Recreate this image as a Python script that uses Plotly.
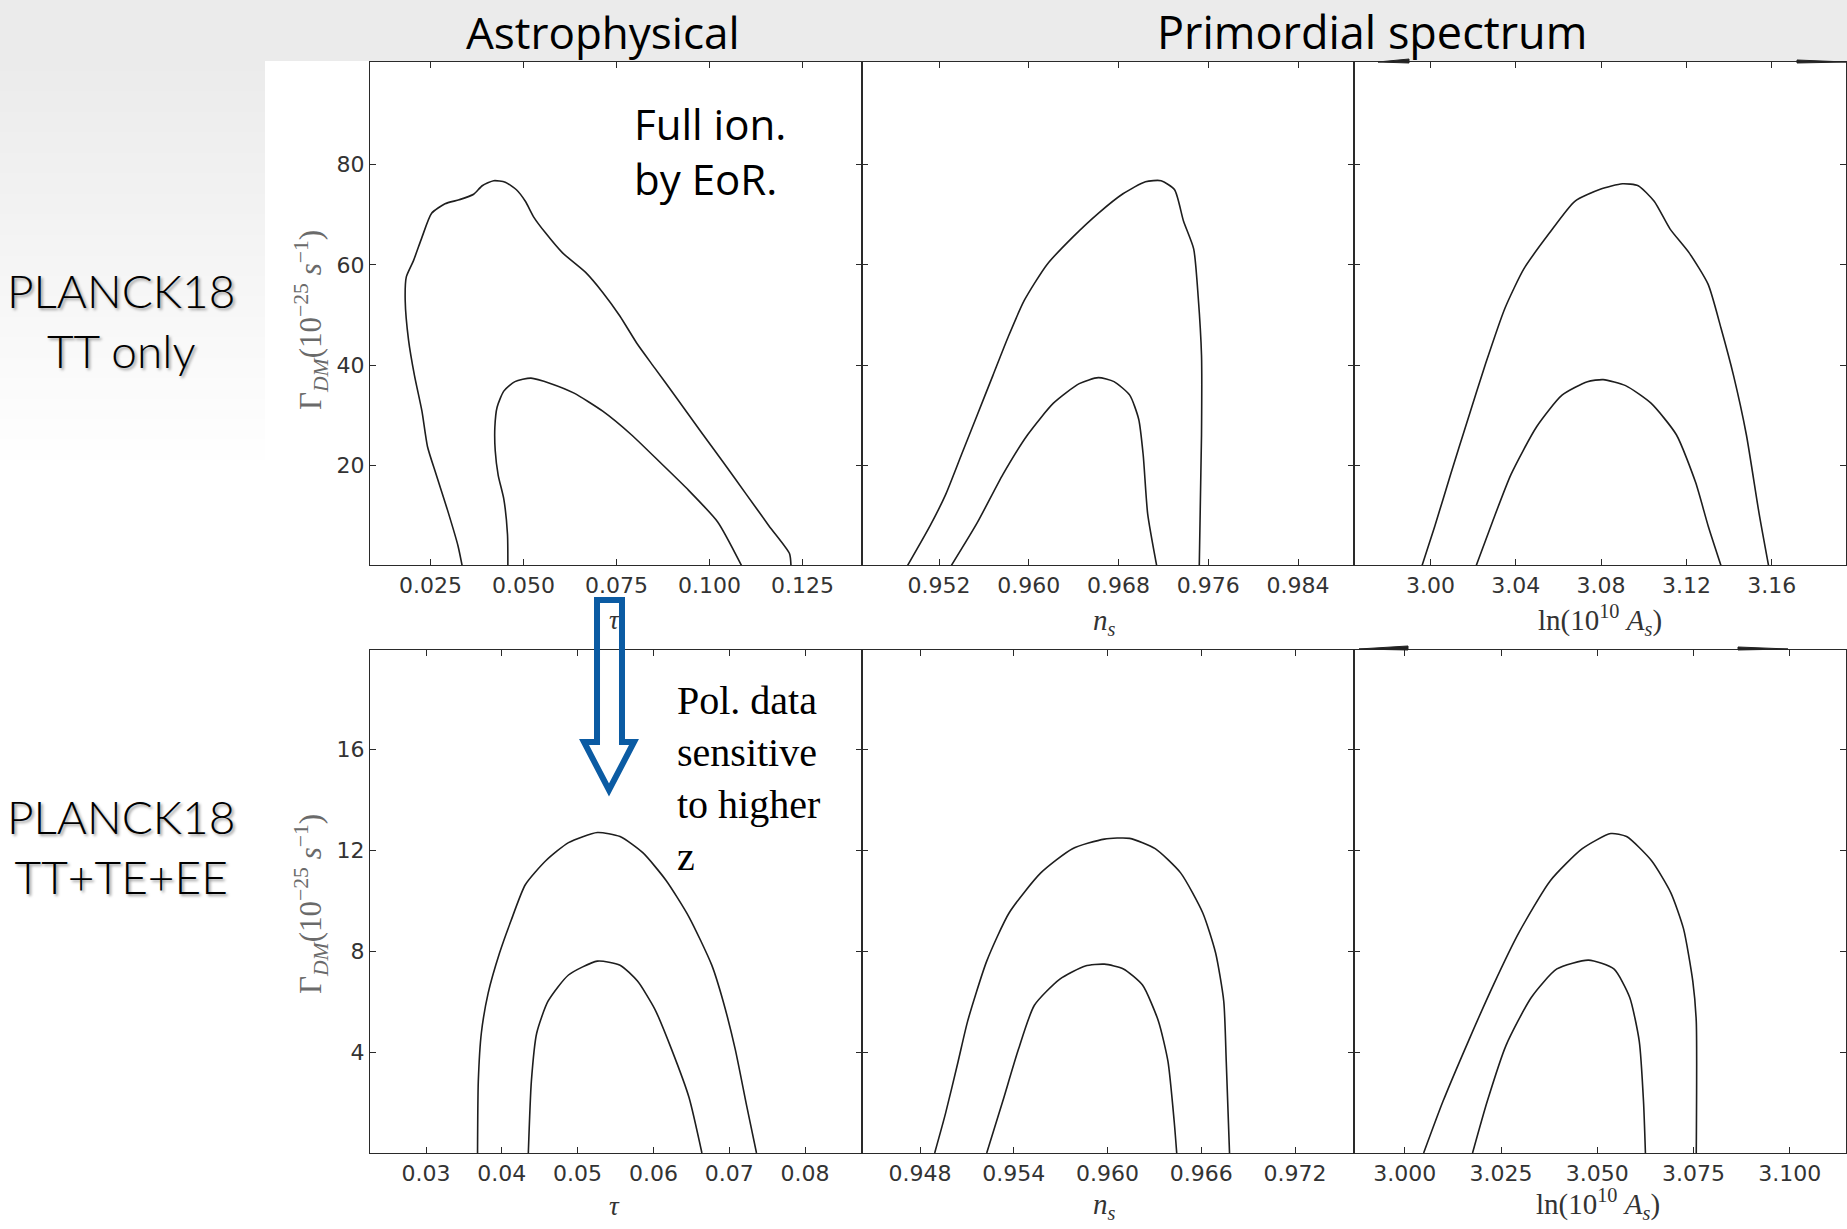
import plotly.graph_objects as go

W, H = 1847, 1229

# ---------------- data ----------------
# Row 1: PLANCK18 TT only  (y = Gamma_DM in 1e-25 s^-1)
tt_tau_out_x = [0.0335, 0.0324, 0.0296, 0.0265, 0.0242, 0.0227, 0.0207, 0.0191, 0.0182, 0.0185, 0.0204,
                0.0227, 0.0253, 0.0289, 0.0327, 0.0366, 0.0389, 0.0420, 0.0451, 0.0481, 0.0505, 0.0528,
                0.0559, 0.0605, 0.0667, 0.0713, 0.0759, 0.0806, 0.0852, 0.0914, 0.0975, 0.1037, 0.1099,
                0.1160, 0.1215, 0.1219]
tt_tau_out_y = [0.0, 3.9, 11.0, 18.2, 23.7, 30.8, 37.9, 45.0, 52.9, 57.6, 60.8,
                65.5, 70.3, 72.2, 73.0, 74.1, 75.8, 76.8, 76.5, 75.0, 72.7, 69.5,
                66.4, 62.4, 58.5, 54.5, 49.8, 44.2, 39.5, 33.2, 26.9, 20.6, 14.2,
                7.9, 2.4, 0.0]
tt_tau_in_x = [0.0458, 0.0457, 0.0447, 0.0432, 0.0424, 0.0423, 0.0429, 0.0447, 0.0477, 0.0520, 0.0574,
               0.0636, 0.0713, 0.0790, 0.0867, 0.0944, 0.1022, 0.1086]
tt_tau_in_y = [0.0, 6.2, 13.3, 18.0, 22.9, 27.6, 31.6, 34.8, 36.7, 37.4, 36.3,
               34.4, 30.8, 26.1, 20.6, 15.0, 8.7, 0.0]

tt_ns_out_x = [0.9492, 0.9512, 0.9526, 0.9540, 0.9554, 0.9568, 0.9582, 0.9596, 0.9616, 0.9639, 0.9662,
               0.9684, 0.9704, 0.9718, 0.9730, 0.9738, 0.9747, 0.9751, 0.9754, 0.9754, 0.9752]
tt_ns_out_y = [0.0, 7.9, 14.2, 22.1, 30.0, 37.9, 45.8, 52.9, 60.0, 65.5, 70.3,
               74.2, 76.6, 76.8, 75.0, 68.7, 63.2, 53.7, 41.9, 26.1, 0.0]
tt_ns_in_x = [0.9531, 0.9554, 0.9577, 0.9599, 0.9622, 0.9645, 0.9662, 0.9676, 0.9690, 0.9698, 0.9702,
              0.9706, 0.9714]
tt_ns_in_y = [0.0, 8.5, 18.2, 26.1, 32.4, 36.3, 37.5, 36.7, 34.0, 29.2, 22.1,
              10.3, 0.0]

tt_as_out_x = [2.9961, 3.0021, 3.0095, 3.0170, 3.0259, 3.0349, 3.0438, 3.0557, 3.0677, 3.0796, 3.0900,
               3.0974, 3.1049, 3.1123, 3.1213, 3.1302, 3.1362, 3.1421, 3.1481, 3.1541, 3.1585]
tt_as_out_y = [0.0, 7.9, 18.2, 28.4, 40.3, 51.3, 59.2, 66.3, 72.7, 75.1, 76.2,
               75.8, 72.7, 67.2, 62.4, 56.1, 47.4, 37.9, 26.1, 10.3, 0.0]
tt_as_in_x = [3.0215, 3.0289, 3.0378, 3.0498, 3.0617, 3.0736, 3.0810, 3.0915, 3.1034, 3.1153, 3.1243,
              3.1302, 3.1362]
tt_as_in_y = [0.0, 8.5, 18.2, 27.7, 34.0, 36.7, 37.1, 35.9, 32.4, 26.1, 16.6,
              7.9, 0.0]

# Row 2: PLANCK18 TT+TE+EE
pol_tau_out_x = [0.0368, 0.0369, 0.0373, 0.0382, 0.0397, 0.0412, 0.0431, 0.0458, 0.0488, 0.0526, 0.0556,
                 0.0586, 0.0617, 0.0647, 0.0677, 0.0692, 0.0708, 0.0723, 0.0736]
pol_tau_out_y = [0.0, 2.84, 4.75, 6.34, 7.93, 9.20, 10.64, 11.59, 12.31, 12.71, 12.55,
                 11.91, 10.80, 9.36, 7.45, 6.02, 4.11, 1.88, 0.0]
pol_tau_in_x = [0.0435, 0.0439, 0.0446, 0.0461, 0.0488, 0.0526, 0.0556, 0.0579, 0.0602, 0.0624, 0.0647,
                0.0664]
pol_tau_in_y = [0.0, 2.84, 4.75, 6.02, 7.06, 7.61, 7.45, 6.82, 5.70, 4.11, 2.20,
                0.0]

pol_ns_out_x = [0.94894, 0.94963, 0.95044, 0.95105, 0.95227, 0.95370, 0.95573, 0.95776, 0.95980, 0.96142,
                0.96305, 0.96468, 0.96610, 0.96692, 0.96744, 0.96760, 0.96781]
pol_ns_out_y = [0.0, 1.56, 3.63, 5.23, 7.61, 9.52, 11.11, 12.07, 12.45, 12.48,
                12.07, 11.11, 9.52, 7.93, 6.02, 3.63, 0.0]
pol_ns_in_x = [0.95227, 0.95329, 0.95430, 0.95532, 0.95695, 0.95858, 0.95980, 0.96102, 0.96224, 0.96326,
               0.96387, 0.96427, 0.96443]
pol_ns_in_y = [0.0, 2.04, 4.11, 5.86, 6.90, 7.42, 7.49, 7.30, 6.66, 5.23,
               3.63, 1.24, 0.0]

pol_as_out_x = [3.0049, 3.0099, 3.0165, 3.0230, 3.0296, 3.0378, 3.0461, 3.0535, 3.0576, 3.0641, 3.0691,
                3.0724, 3.0748, 3.0757, 3.0757]
pol_as_out_y = [0.0, 2.04, 4.43, 6.66, 8.73, 10.80, 12.07, 12.67, 12.55, 11.59, 10.32,
                8.89, 6.82, 5.23, 0.0]
pol_as_in_x = [3.0176, 3.0214, 3.0263, 3.0329, 3.0395, 3.0477, 3.0543, 3.0584, 3.0609, 3.0620, 3.0625]
pol_as_in_y = [0.0, 2.04, 4.27, 6.18, 7.30, 7.65, 7.30, 6.18, 4.43, 2.04, 0.0]

# tick values
tt_tau_ticks = [0.025, 0.050, 0.075, 0.100, 0.125]
tt_tau_ticklabels = ["0.025", "0.050", "0.075", "0.100", "0.125"]
tt_ns_ticks = [0.952, 0.960, 0.968, 0.976, 0.984]
tt_ns_ticklabels = ["0.952", "0.960", "0.968", "0.976", "0.984"]
tt_as_ticks = [3.00, 3.04, 3.08, 3.12, 3.16]
tt_as_ticklabels = ["3.00", "3.04", "3.08", "3.12", "3.16"]
tt_gamma_ticks = [20, 40, 60, 80]

pol_tau_ticks = [0.03, 0.04, 0.05, 0.06, 0.07, 0.08]
pol_tau_ticklabels = ["0.03", "0.04", "0.05", "0.06", "0.07", "0.08"]
pol_ns_ticks = [0.948, 0.954, 0.960, 0.966, 0.972]
pol_ns_ticklabels = ["0.948", "0.954", "0.960", "0.966", "0.972"]
pol_as_ticks = [3.000, 3.025, 3.050, 3.075, 3.100]
pol_as_ticklabels = ["3.000", "3.025", "3.050", "3.075", "3.100"]
pol_gamma_ticks = [4, 8, 12, 16]

# ---------------- layout helpers ----------------
def px(x):
    return x / W


def py(y):
    return 1 - y / H


col_px = [(370, 862), (862, 1354), (1354, 1846)]
row_px = [(62, 565), (650, 1153)]

panels = [
    # row, col, curves, xrange, yrange, xticks, xticklabels, yticks
    (0, 0, [(tt_tau_out_x, tt_tau_out_y), (tt_tau_in_x, tt_tau_in_y)], [0.008737, 0.140995], [0.1, 100.5],
     tt_tau_ticks, tt_tau_ticklabels, tt_gamma_ticks),
    (0, 1, [(tt_ns_out_x, tt_ns_out_y), (tt_ns_in_x, tt_ns_in_y)], [0.945137, 0.988991], [0.1, 100.5],
     tt_ns_ticks, tt_ns_ticklabels, tt_gamma_ticks),
    (0, 2, [(tt_as_out_x, tt_as_out_y), (tt_as_in_x, tt_as_in_y)], [2.9642, 3.1948], [0.1, 100.5],
     tt_as_ticks, tt_as_ticklabels, tt_gamma_ticks),
    (1, 0, [(pol_tau_out_x, pol_tau_out_y), (pol_tau_in_x, pol_tau_in_y)], [0.022612, 0.08752], [0.0, 19.95],
     pol_tau_ticks, pol_tau_ticklabels, pol_gamma_ticks),
    (1, 1, [(pol_ns_out_x, pol_ns_out_y), (pol_ns_in_x, pol_ns_in_y)], [0.944288, 0.975776], [0.0, 19.95],
     pol_ns_ticks, pol_ns_ticklabels, pol_gamma_ticks),
    (1, 2, [(pol_as_out_x, pol_as_out_y), (pol_as_in_x, pol_as_in_y)], [2.98681, 3.11459], [0.0, 19.95],
     pol_as_ticks, pol_as_ticklabels, pol_gamma_ticks),
]

fig = go.Figure()
layout = dict(
    width=W, height=H, margin=dict(l=0, r=0, t=0, b=0),
    paper_bgcolor="white", plot_bgcolor="white", showlegend=False,
)

tick_font = dict(family="DejaVu Sans", size=22, color="#333333")
axis_common = dict(showline=True, linecolor="#2a2a2a", linewidth=1.2, mirror="ticks", ticks="inside",
                   ticklen=6, tickwidth=1.3, tickcolor="#2a2a2a", showgrid=False, zeroline=False,
                   tickfont=tick_font, fixedrange=True)

for i, (r, c, curves, xr, yr, xt, xtl, yt) in enumerate(panels):
    n = i + 1
    xa = "x" if n == 1 else f"x{n}"
    ya = "y" if n == 1 else f"y{n}"
    for cx, cy in curves:
        fig.add_trace(go.Scatter(x=cx, y=cy, mode="lines", xaxis=xa, yaxis=ya,
                                 line=dict(color="#1e1e1e", width=1.6, shape="spline", smoothing=0.6),
                                 hoverinfo="skip"))
    x0, x1 = col_px[c]
    y0, y1 = row_px[r]
    layout["xaxis" if n == 1 else f"xaxis{n}"] = dict(
        axis_common, domain=[px(x0), px(x1)], range=xr, tickvals=xt, ticktext=xtl,
        anchor=ya)
    layout["yaxis" if n == 1 else f"yaxis{n}"] = dict(
        axis_common, domain=[py(y1), py(y0)], range=yr, tickvals=yt,
        showticklabels=(c == 0), anchor=xa)

# ---------------- background (slide) ----------------
shapes = []
shapes.append(dict(type="rect", xref="paper", yref="paper", x0=0, x1=1, y0=py(61), y1=1,
                   fillcolor="#ebebeb", line=dict(width=0), layer="below"))
nb = 40
g_top, g_bot = 61, 470
for k in range(nb):
    ya0 = g_top + (g_bot - g_top) * k / nb
    ya1 = g_top + (g_bot - g_top) * (k + 1) / nb + 1
    t = k / (nb - 1)
    v = int(round(235 + (255 - 235) * t))
    shapes.append(dict(type="rect", xref="paper", yref="paper", x0=0, x1=px(265), y0=py(ya1), y1=py(ya0),
                       fillcolor=f"rgb({v},{v},{v})", line=dict(width=0), layer="below"))

# hollow blue arrow
arrow_pts = [(597, 600), (597, 742), (584, 742), (609, 790), (634, 742), (622, 742), (622, 600)]
path = "M " + " L ".join(f"{px(a):.5f},{py(b):.5f}" for a, b in arrow_pts) + " Z"
shapes.append(dict(type="path", xref="paper", yref="paper", path=path,
                   line=dict(color="#0b5ba3", width=6), fillcolor="rgba(0,0,0,0)", layer="above"))

# small slide artefacts at panel tops (thin wedges)
for (a0, a1, yy, d) in [(1378, 1409, 61, -1), (1797, 1846, 61, 1), (1359, 1408, 648, -1), (1738, 1788, 648, 1)]:
    if d < 0:
        pts = [(a0, yy + 1), (a1, yy - 2), (a1, yy + 2)]
    else:
        pts = [(a0, yy - 1), (a1, yy + 1), (a0, yy + 2)]
    wp = "M " + " L ".join(f"{px(a):.5f},{py(b):.5f}" for a, b in pts) + " Z"
    shapes.append(dict(type="path", xref="paper", yref="paper", path=wp,
                       line=dict(color="#222222", width=1), fillcolor="#222222", layer="above"))
layout["shapes"] = shapes

# ---------------- text ----------------
ann = []


def add_text(text, x, y, size, family, color="#000000", xanchor="center", yanchor="middle", align="center",
             angle=0, shadow=None, weight=None):
    f = dict(family=family, size=size, color=color)
    if shadow:
        f["shadow"] = shadow
    if weight:
        f["weight"] = weight
    ann.append(dict(text=text, x=px(x), y=py(y), xref="paper", yref="paper", showarrow=False,
                    xanchor=xanchor, yanchor=yanchor, align=align, textangle=angle, font=f))


hand = "Open Sans"
add_text("Astrophysical", 603, 32, 44, hand)
add_text("Primordial spectrum", 1372, 31, 45, hand)
add_text("Full ion.<br>by EoR.", 632, 151, 42, hand, xanchor="left", align="left")

planck_shadow = "2px 2px 3px #9a9a9a"
add_text("PLANCK18<br>TT only", 121, 320, 46, "Lato", shadow=planck_shadow, weight=300)
add_text("PLANCK18<br>TT+TE+EE", 121, 846, 46, "Lato", shadow=planck_shadow, weight=300)

add_text("Pol. data<br>sensitive<br>to higher<br>z", 675, 778, 40, "Liberation Serif",
         xanchor="left", align="left")

serif = "Liberation Serif"
ylab = "Γ<sub><i>DM</i></sub>(10<sup>−25</sup> <i>s</i><sup>−1</sup>)"
add_text(ylab, 311, 320, 31, serif, color="#6a6a6a", angle=-90)
add_text(ylab, 311, 904, 31, serif, color="#6a6a6a", angle=-90)

tau = "<i>τ</i>"
ns = "<i>n<sub>s</sub></i>"
lnA = "ln(10<sup>10</sup> <i>A<sub>s</sub></i>)"
add_text(tau, 614, 620, 27, serif, color="#333333")
add_text(ns, 1104, 622, 29, serif, color="#333333")
add_text(lnA, 1600, 620, 29, serif, color="#333333")
add_text(tau, 614, 1206, 27, serif, color="#333333")
add_text(ns, 1104, 1206, 29, serif, color="#333333")
add_text(lnA, 1598, 1204, 29, serif, color="#333333")

layout["annotations"] = ann
fig.update_layout(**layout)
fig.write_html("out.html")
